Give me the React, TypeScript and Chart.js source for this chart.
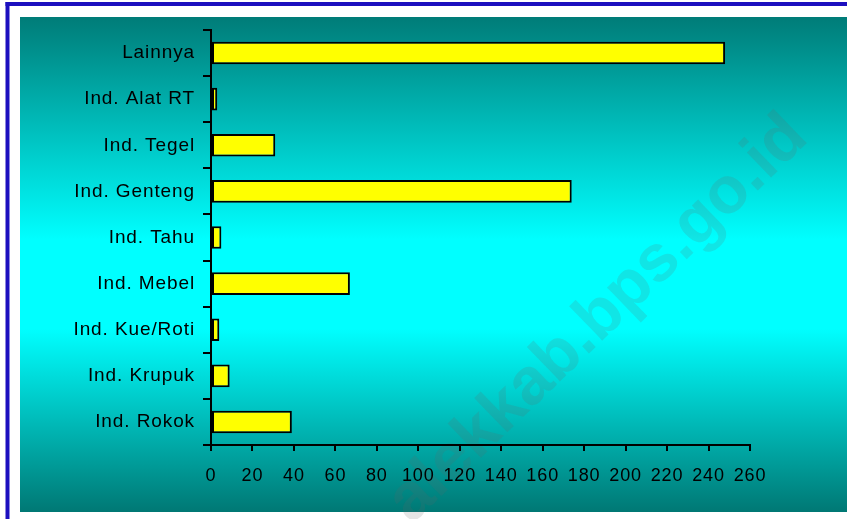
import React, { useEffect, useRef } from 'react';
import { Chart, registerables } from 'chart.js';

Chart.register(...registerables);

const categories = [
  'Lainnya',
  'Ind. Alat RT',
  'Ind. Tegel',
  'Ind. Genteng',
  'Ind. Tahu',
  'Ind. Mebel',
  'Ind. Kue/Roti',
  'Ind. Krupuk',
  'Ind. Rokok',
];
const values = [248, 3, 31, 174, 5, 67, 4, 9, 39];
const xMin = 0;
const xMax = 260;
const xStep = 20;
const watermarkText = 'alekkab.bps.go.id';

const W = 847;
const H = 519;
const FONT = '"Liberation Sans", Arial, sans-serif';
const SPACING = '0.9px';

const framePlugin = {
  id: 'frame',
  beforeLayout(chart: any) {
    chart.ctx.letterSpacing = SPACING;
  },
  beforeDraw(chart: any) {
    const ctx = chart.ctx as CanvasRenderingContext2D;
    ctx.save();
    ctx.fillStyle = '#ffffff';
    ctx.fillRect(0, 0, W, H);
    // blue frame (left and top)
    ctx.fillStyle = '#1c0fbf';
    ctx.fillRect(5.5, 2, 4, H);
    ctx.fillRect(5.5, 2, W, 4);
    // teal gradient panel
    const top = 17;
    const bottom = 512;
    const g = ctx.createLinearGradient(0, top, 0, bottom);
    g.addColorStop(0, '#007c78');
    g.addColorStop(0.45, '#00ffff');
    g.addColorStop(0.63, '#00ffff');
    g.addColorStop(1, '#007874');
    ctx.fillStyle = g;
    ctx.fillRect(20, top, W - 20, bottom - top);
    // watermark
    ctx.translate(810, 140);
    ctx.rotate((-44 * Math.PI) / 180);
    (ctx as any).letterSpacing = '0px';
    ctx.font = `bold 66px ${FONT}`;
    ctx.textAlign = 'right';
    ctx.textBaseline = 'alphabetic';
    ctx.fillStyle = 'rgba(100,100,100,0.17)';
    ctx.fillText(watermarkText, 0, 0);
    ctx.restore();
    (ctx as any).letterSpacing = SPACING;
  },
};

export default function App() {
  const canvasRef = useRef<HTMLCanvasElement | null>(null);

  useEffect(() => {
    if (!canvasRef.current) return;
    const chart = new Chart(canvasRef.current, {
      type: 'bar',
      data: {
        labels: categories,
        datasets: [
          {
            data: values,
            backgroundColor: '#ffff00',
            borderColor: '#000000',
            borderWidth: 2,
            borderSkipped: false,
            barPercentage: 0.49,
            categoryPercentage: 1,
          },
        ],
      },
      options: {
        indexAxis: 'y',
        animation: false,
        responsive: false,
        devicePixelRatio: 1,
        layout: { padding: { left: 0, right: W - 750, top: 30, bottom: 0 } },
        plugins: {
          legend: { display: false },
          title: { display: false },
          tooltip: { enabled: false },
        },
        scales: {
          x: {
            type: 'linear',
            min: xMin,
            max: xMax,
            ticks: {
              stepSize: xStep,
              color: '#000000',
              font: { family: FONT, size: 18 },
              padding: 14,
            },
            grid: {
              drawOnChartArea: false,
              drawTicks: true,
              tickLength: 6,
              color: '#000000',
              lineWidth: 2,
            },
            border: { display: true, color: '#000000', width: 2 },
            afterFit(scale: any) {
              scale.height = H - 445;
            },
          },
          y: {
            type: 'category',
            ticks: {
              color: '#000000',
              font: { family: FONT, size: 19 },
              padding: 8,
            },
            grid: {
              offset: true,
              drawOnChartArea: false,
              drawTicks: true,
              tickLength: 8,
              color: '#000000',
              lineWidth: 2,
            },
            border: { display: true, color: '#000000', width: 2 },
            afterFit(scale: any) {
              scale.width = 211;
            },
          },
        },
      },
      plugins: [framePlugin],
    });
    return () => chart.destroy();
  }, []);

  return (
    <div style={{ position: 'absolute', left: 0, top: 0, width: W, height: H }}>
      <canvas ref={canvasRef} width={W} height={H} style={{ display: 'block' }} />
    </div>
  );
}
